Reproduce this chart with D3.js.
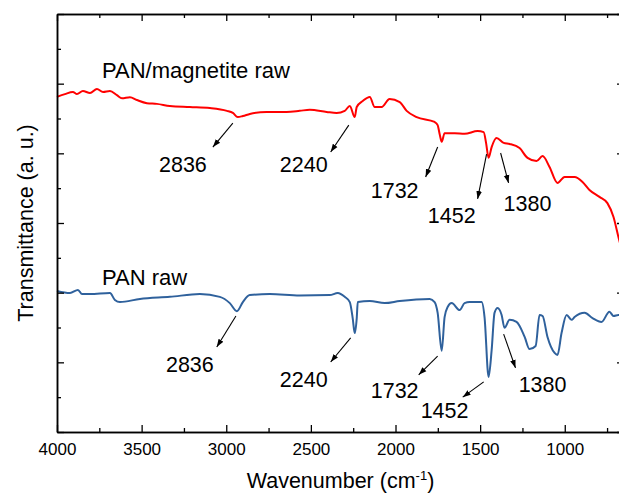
<!DOCTYPE html>
<html>
<head>
<meta charset="utf-8">
<script src="https://cdn.jsdelivr.net/npm/d3@7"></script>
<style>
  html, body { margin: 0; padding: 0; background: #fff; }
  svg { display: block; font-family: "Liberation Sans", Arial, sans-serif; }
</style>
</head>
<body>
<svg id="chart" width="619" height="493"></svg>
<script>
// ---- data ----
const xDomain = [4000, 650];
const yDomain = [0, 12];
const xMajorTicks = [4000, 3500, 3000, 2500, 2000, 1500, 1000];
const xMinorTicks = [3750, 3250, 2750, 2250, 1750, 1250, 750];
const yMajorTicks = [0, 2, 4, 6, 8, 10, 12];
const yMinorTicks = [1, 3, 5, 7, 9, 11];

// PAN/magnetite raw (wavenumber, transmittance a.u.)
const magnetiteWave = [4000,3953,3906,3882,3847,3805,3764,3728,3687,3646,3616,3569,3528,3469,3410,3333,3215,3097,2996,2961,2932,2902,2861,2762,2644,2566,2507,2407,2348,2300,2270,2241,2229,2194,2152,2123,2082,2035,1975,1934,1875,1769,1751,1739,1727,1710,1650,1592,1515,1479,1465,1450,1432,1403,1361,1326,1267,1220,1167,1131,1090,1043,1001,942,895,854,795,748,712,683,650];
const magnetiteT = [9.62,9.70,9.76,9.70,9.79,9.73,9.85,9.76,9.79,9.67,9.58,9.61,9.53,9.44,9.42,9.36,9.33,9.30,9.22,9.16,9.04,9.07,9.13,9.19,9.19,9.22,9.25,9.19,9.16,9.22,9.36,9.04,9.33,9.50,9.62,9.33,9.33,9.56,9.47,9.22,9.04,8.90,8.81,8.55,8.33,8.58,8.58,8.56,8.64,8.61,8.30,7.87,8.18,8.44,8.30,8.27,8.15,7.87,7.78,7.92,7.61,7.15,7.32,7.32,7.18,6.95,6.75,6.57,6.17,5.60,5.00];

// PAN raw
const panWave = [4000,3923,3876,3852,3805,3687,3658,3628,3510,3333,3156,3038,2979,2937,2902,2861,2743,2566,2389,2341,2300,2270,2253,2241,2229,2223,2152,2064,1975,1798,1769,1751,1727,1710,1692,1668,1621,1592,1562,1491,1474,1450,1432,1415,1397,1373,1356,1326,1285,1237,1208,1172,1149,1131,1102,1060,1043,1019,989,960,942,883,836,783,736,712,683,650];
const panT = [4.05,3.99,4.08,3.96,3.96,3.99,3.79,3.73,3.82,3.88,3.96,3.88,3.70,3.47,3.73,3.93,3.96,3.92,3.93,3.99,3.88,3.73,3.27,2.84,3.27,3.73,3.76,3.70,3.76,3.82,3.73,3.42,2.33,3.30,3.59,3.70,3.50,3.70,3.73,3.73,3.30,1.58,2.35,3.42,3.56,3.36,2.99,3.22,3.16,2.73,2.38,2.47,3.36,3.33,2.73,2.27,2.21,2.84,3.36,3.22,3.30,3.42,3.27,3.16,3.45,3.33,3.36,3.30];

// annotations: arrow start (w,t), arrow end (w,t), label anchor (w,t)
const peakLabels = ["2836","2240","1732","1452","1380"];
const magnetiteArrows = [
  [2961,8.87,3079,8.18,3256,7.46],
  [2276,8.81,2383,8.04,2542,7.46],
  [1751,8.18,1822,7.32,2005,6.72],
  [1462,7.98,1515,6.69,1668,6.00],
  [1379,8.01,1332,7.15,1220,6.35]
];
const panArrows = [
  [2943,3.33,3056,2.44,3215,1.72],
  [2265,2.70,2383,2.01,2542,1.29],
  [1751,2.18,1863,1.64,2005,0.98],
  [1479,1.44,1603,1.00,1710,0.40],
  [1361,2.81,1291,1.84,1131,1.15]
];
const seriesNames = ["PAN/magnetite raw", "PAN raw"];
const seriesLabelPos = [[3734,10.16],[3734,4.22]];
const seriesColors = ["#ff0000", "#2f619c"];

// ---- chart ----
const margin = {left: 57, top: 14};
const W = 567, H = 418;
const svg = d3.select("#chart");
const g = svg.append("g").attr("transform", `translate(${margin.left},${margin.top})`);

const x = d3.scaleLinear().domain(xDomain).range([0, W]);
const y = d3.scaleLinear().domain(yDomain).range([H, 0]);

svg.append("defs").append("marker")
  .attr("id", "ah").attr("viewBox", "0 0 10 10")
  .attr("refX", 10).attr("refY", 5)
  .attr("markerWidth", 8).attr("markerHeight", 8)
  .attr("markerUnits", "userSpaceOnUse")
  .attr("orient", "auto")
  .append("path").attr("d", "M0,1.5 L10,5 L0,8.5 Z").attr("fill", "#000");

const line = d3.line().x(d => x(d[0])).y(d => y(d[1])).curve(d3.curveMonotoneX);
const magData = magnetiteWave.map((w, i) => [w, magnetiteT[i]]);
const panData = panWave.map((w, i) => [w, panT[i]]);

[magData, panData].forEach((d, i) => {
  g.append("path").datum(d).attr("d", line)
    .attr("fill", "none").attr("stroke", seriesColors[i])
    .attr("stroke-width", 2).attr("stroke-linejoin", "round");
});

// axes
const tickStyle = sel => sel.call(s => s.select(".domain").attr("stroke-width", 1.5))
  .call(s => s.selectAll(".tick line").attr("stroke-width", 1.3));
g.append("g").attr("transform", `translate(0,${H})`)
  .call(d3.axisBottom(x).tickValues(xMajorTicks).tickSizeInner(-7).tickSizeOuter(0).tickPadding(11).tickFormat(d3.format("d")))
  .call(tickStyle)
  .call(s => s.selectAll("text").attr("font-size", 17).attr("fill", "#000").attr("font-family", "Liberation Sans, Arial, sans-serif"));
g.append("g").attr("transform", `translate(0,${H})`)
  .call(d3.axisBottom(x).tickValues(xMinorTicks).tickSizeInner(-4).tickSizeOuter(0).tickFormat(""))
  .call(tickStyle);
g.append("g")
  .call(d3.axisTop(x).tickValues(xMajorTicks).tickSizeInner(-7).tickSizeOuter(0).tickFormat(""))
  .call(tickStyle);
g.append("g")
  .call(d3.axisTop(x).tickValues(xMinorTicks).tickSizeInner(-4).tickSizeOuter(0).tickFormat(""))
  .call(tickStyle);
g.append("g")
  .call(d3.axisLeft(y).tickValues(yMajorTicks).tickSizeInner(-7).tickSizeOuter(0).tickFormat(""))
  .call(tickStyle);
g.append("g")
  .call(d3.axisLeft(y).tickValues(yMinorTicks).tickSizeInner(-4).tickSizeOuter(0).tickFormat(""))
  .call(tickStyle);
g.append("g").attr("transform", `translate(${W},0)`)
  .call(d3.axisRight(y).tickValues(yMajorTicks).tickSizeInner(-7).tickSizeOuter(0).tickFormat(""))
  .call(tickStyle);
g.append("g").attr("transform", `translate(${W},0)`)
  .call(d3.axisRight(y).tickValues(yMinorTicks).tickSizeInner(-4).tickSizeOuter(0).tickFormat(""))
  .call(tickStyle);

// axis titles
const xt = svg.append("text").attr("x", margin.left + W / 2).attr("y", 488)
  .attr("text-anchor", "middle").attr("font-size", 21.5).attr("fill", "#000");
xt.append("tspan").text("Wavenumber (cm");
xt.append("tspan").attr("dy", -8).attr("font-size", 13).text("-1");
xt.append("tspan").attr("dy", 8).text(")");

svg.append("text").attr("transform", `translate(33,${margin.top + H / 2}) rotate(-90)`)
  .attr("text-anchor", "middle").attr("font-size", 21.5).attr("fill", "#000")
  .text("Transmittance (a. u.)");

// series labels
seriesNames.forEach((n, i) => {
  g.append("text").attr("x", x(seriesLabelPos[i][0])).attr("y", y(seriesLabelPos[i][1]))
    .attr("font-size", 22).attr("fill", "#000").text(n);
});

// peak arrows
[magnetiteArrows, panArrows].forEach(arr => {
  arr.forEach((a, i) => {
    g.append("line")
      .attr("x1", x(a[0])).attr("y1", y(a[1]))
      .attr("x2", x(a[2])).attr("y2", y(a[3]))
      .attr("stroke", "#000").attr("stroke-width", 1.1)
      .attr("marker-end", "url(#ah)");
    g.append("text").attr("x", x(a[4])).attr("y", y(a[5]))
      .attr("text-anchor", "middle").attr("font-size", 21.5).attr("fill", "#000")
      .text(peakLabels[i]);
  });
});
</script>
</body>
</html>
